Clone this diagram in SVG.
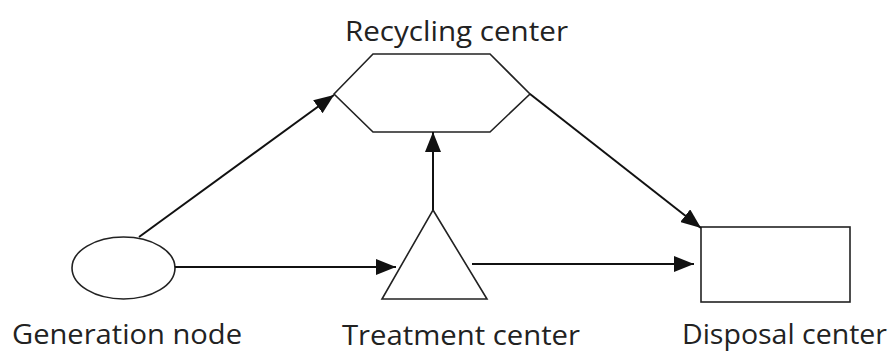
<svg xmlns="http://www.w3.org/2000/svg" width="894" height="354" viewBox="0 0 894 354">
<style>
.shape{fill:#fff;stroke:#222;stroke-width:1.6}
.conn line{stroke:#111;stroke-width:2}
text{font-family:"Open Sans","Liberation Sans",sans-serif;font-size:28px;fill:#222;text-anchor:middle}
</style>
<defs>
<marker id="a" viewBox="0 0 20 16" refX="20" refY="8" markerWidth="20" markerHeight="16" markerUnits="userSpaceOnUse" orient="auto">
<path d="M0,0 L20,8 L0,16 z" fill="#111"/>
</marker>
</defs>
<rect width="894" height="354" fill="#fff"/>
<g id="recycling">
<polygon class="shape" points="334,94 373,54 490,54 530,94 490,132 373,132"/>
<text x="456.5" y="41" textLength="223" lengthAdjust="spacingAndGlyphs">Recycling center</text>
</g>
<g id="generation">
<ellipse class="shape" cx="123.5" cy="268" rx="51.5" ry="31"/>
<text x="127" y="344" textLength="230" lengthAdjust="spacingAndGlyphs">Generation node</text>
</g>
<g id="treatment">
<polygon class="shape" points="433,210 487,299 382,299"/>
<text x="461" y="345" textLength="238" lengthAdjust="spacingAndGlyphs">Treatment center</text>
</g>
<g id="disposal">
<rect class="shape" x="701" y="227" width="149" height="75"/>
<text x="784.5" y="344" textLength="205" lengthAdjust="spacingAndGlyphs">Disposal center</text>
</g>
<g class="conn">
<line x1="139" y1="237" x2="334" y2="95" marker-end="url(#a)"/>
<line x1="175" y1="267" x2="396" y2="267" marker-end="url(#a)"/>
<line x1="433" y1="210" x2="433" y2="132" marker-end="url(#a)"/>
<line x1="472" y1="264" x2="694" y2="264" marker-end="url(#a)"/>
<line x1="530" y1="94" x2="701" y2="228" marker-end="url(#a)"/>
</g>
</svg>
